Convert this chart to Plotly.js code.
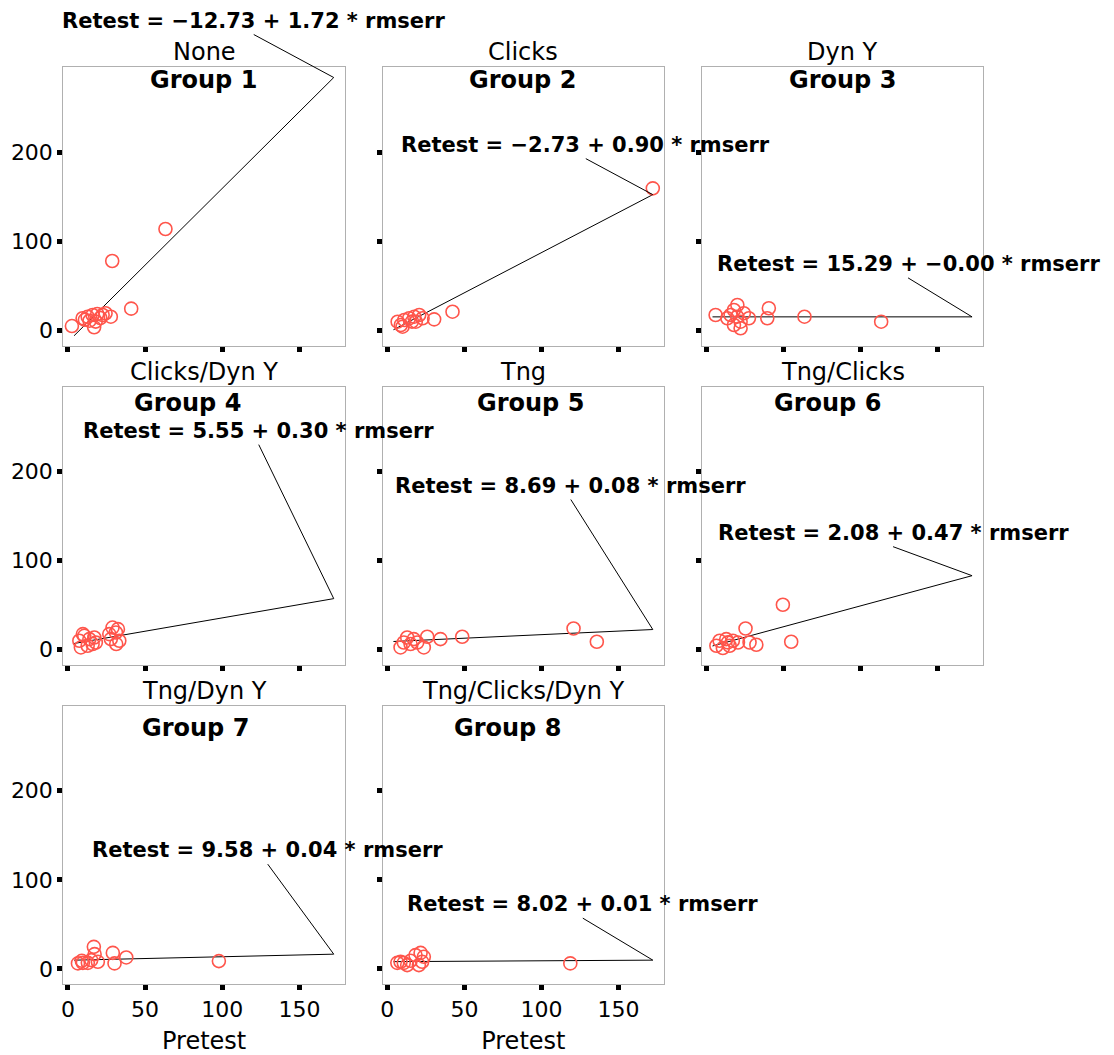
<!DOCTYPE html>
<html><head><meta charset="utf-8">
<script src="https://cdn.plot.ly/plotly-3.0.1.min.js"></script>
<style>html,body{margin:0;padding:0;background:#fff}</style>
</head><body><div id="chart" style="width:1114px;height:1055px"></div>
<script>
// ---- data ----
const groupNames = ['Group 1','Group 2','Group 3','Group 4','Group 5','Group 6','Group 7','Group 8'];
const conditions = ['None','Clicks','Dyn Y','Clicks/Dyn Y','Tng','Tng/Clicks','Tng/Dyn Y','Tng/Clicks/Dyn Y'];
const intercepts = [-12.73, -2.73, 15.29, 5.55, 8.69, 2.08, 9.58, 8.02];
const slopes = [1.72, 0.90, -0.00, 0.30, 0.08, 0.47, 0.04, 0.01];
const equationLabels = [
  'Retest = \u221212.73 + 1.72 * rmserr',
  'Retest = \u22122.73 + 0.90 * rmserr',
  'Retest = 15.29 + \u22120.00 * rmserr',
  'Retest = 5.55 + 0.30 * rmserr',
  'Retest = 8.69 + 0.08 * rmserr',
  'Retest = 2.08 + 0.47 * rmserr',
  'Retest = 9.58 + 0.04 * rmserr',
  'Retest = 8.02 + 0.01 * rmserr'
];
const fitRange = [4, 172.2];

const pre1 = [2.6, 9.5, 11, 12.8, 14, 16, 17, 18, 19, 21, 22.5, 24.4, 27.8, 28.7, 41, 63.2];
const ret1 = [5, 13.7, 12, 15.5, 11, 17.4, 3.6, 10, 18.5, 14, 17.4, 19.3, 15.5, 77.9, 24.5, 113.7];
const pre2 = [6.7, 8.8, 9.9, 11, 14.2, 16, 17.5, 18.5, 20.7, 22.9, 30.4, 42.3, 172.2];
const ret2 = [9.9, 6.2, 4.3, 11.8, 13.7, 10, 15.5, 9.9, 17.4, 13.7, 12.5, 21.1, 159.3];
const pre3 = [6.0, 13.6, 15.7, 17.9, 17.9, 20, 20.1, 22.2, 22.2, 24.3, 27.6, 39.5, 40.5, 63.6, 113.3];
const ret3 = [17.4, 13.7, 17.4, 23, 6.2, 15.5, 28.6, 9.9, 2.5, 19.3, 13.7, 13.7, 24.9, 15.5, 9.9];
const pre4 = [7.4, 8.4, 9.7, 10.6, 12.8, 13.9, 16, 17.1, 18.1, 26.8, 27.8, 28.9, 31.1, 31.3, 32.4, 33.3];
const ret4 = [9.8, 2.3, 17.3, 15.4, 4.2, 11.7, 6.1, 13.5, 7.9, 17.3, 11.7, 24.7, 19.1, 6.1, 22.9, 9.8];
const pre5 = [8.6, 10.7, 12.9, 15.1, 17.2, 19.4, 23.7, 25.9, 34.5, 48.6, 120.8, 135.9];
const ret5 = [2.3, 7.9, 13.5, 6.1, 11.7, 7.9, 2.3, 14.3, 11.7, 14.3, 23.6, 8.7];
const pre6 = [6.5, 8.6, 10.7, 12.9, 14, 15.1, 17.2, 20.5, 25.4, 28, 32.4, 49.6, 55];
const ret6 = [4.2, 9.8, 1.6, 11.7, 8, 4.2, 9.8, 7.9, 23.6, 7.9, 5.3, 50.3, 8.7];
const pre7 = [6.5, 9, 9.7, 12.9, 15.1, 16.8, 17.3, 19.4, 29.1, 30.2, 37.8, 97.8];
const ret7 = [6.1, 9, 6.7, 6.7, 9.8, 24.7, 16.5, 7.9, 17.9, 6.1, 12.8, 8.7];
const pre8 = [6.5, 8.6, 10.7, 12.9, 15.1, 18.3, 20.5, 21.6, 22.6, 23.7, 118.7];
const ret8 = [6.7, 7.9, 6.7, 4.2, 9, 15.4, 4.2, 17.9, 7.9, 13.5, 6.1];

const xTicks = [0, 50, 100, 150];
const yTicks = [0, 100, 200];

// ---- layout config ----
const pretest = [pre1, pre2, pre3, pre4, pre5, pre6, pre7, pre8];
const retest = [ret1, ret2, ret3, ret4, ret5, ret6, ret7, ret8];
const colDomains = [[0.0568, 0.3097], [0.3435, 0.5961], [0.6299, 0.8827]];
const rowDomains = [[0.6720, 0.9368], [0.3697, 0.6335], [0.0670, 0.3311]];
const arrowOffsets = [[-80,-43],[-67,-36],[-64,-39],[-75,-154],[-82,-130],[-79,-29],[-66,-90],[-70,-42]];
const groupXShift = [-1, -1, 0, -17, 7, -15.5, -9, -16.3];
const groupYShift = [-13, -16, -22];
const FONT = 'DejaVu Sans';

const traces = [];
const layout = {
  width: 1114, height: 1055,
  margin: {l: 0, r: 0, t: 0, b: 0},
  paper_bgcolor: '#fff', plot_bgcolor: '#fff',
  showlegend: false,
  font: {family: FONT, color: '#000', size: 22},
  annotations: []
};

for (let i = 0; i < 8; i++) {
  const row = Math.floor(i / 3), col = i % 3;
  const sfx = i === 0 ? '' : String(i + 1);
  const xa = 'x' + sfx, ya = 'y' + sfx;
  const fitX = fitRange.slice();
  const fitY = fitX.map(v => intercepts[i] + slopes[i] * v);
  traces.push({
    type: 'scatter', mode: 'lines', x: fitX, y: fitY, xaxis: xa, yaxis: ya,
    line: {color: '#000', width: 1}, hoverinfo: 'skip'
  });
  traces.push({
    type: 'scatter', mode: 'markers', x: pretest[i], y: retest[i], xaxis: xa, yaxis: ya,
    marker: {symbol: 'circle-open', size: 13, color: 'rgb(255,85,75)', line: {width: 1.6}},
    cliponaxis: false
  });
  const bottomRow = (i >= 6);
  layout['xaxis' + sfx] = {
    domain: colDomains[col], anchor: ya, range: [-3, 179.5],
    tickvals: xTicks, ticks: 'outside', ticklen: 5, tickwidth: 5, tickcolor: '#000',
    showticklabels: bottomRow, tickfont: {size: 22, family: FONT},
    showgrid: false, zeroline: false, showline: true, mirror: true,
    linecolor: '#b0b0b0', linewidth: 1,
    title: bottomRow ? {text: 'Pretest', font: {size: 24, family: FONT}, standoff: 12} : {text: ''}
  };
  layout['yaxis' + sfx] = {
    domain: rowDomains[row], anchor: xa, range: [-17.4, 295.6],
    tickvals: yTicks, ticks: 'outside', ticklen: 5, tickwidth: 5, tickcolor: '#000',
    showticklabels: col === 0, tickfont: {size: 22, family: FONT},
    showgrid: false, zeroline: false, showline: true, mirror: true,
    linecolor: '#b0b0b0', linewidth: 1
  };
  // condition title above the panel
  layout.annotations.push({
    xref: xa + ' domain', yref: ya + ' domain', x: 0.5, y: 1,
    xanchor: 'center', yanchor: 'middle', yshift: 14.5, showarrow: false,
    text: conditions[i], font: {size: 24, family: FONT}
  });
  // group label inside the panel
  layout.annotations.push({
    xref: xa + ' domain', yref: ya + ' domain', x: 0.5, y: 1,
    xanchor: 'center', yanchor: 'middle', yshift: groupYShift[row], xshift: groupXShift[i],
    showarrow: false, text: '<b>' + groupNames[i] + '</b>', font: {size: 24, family: FONT}
  });
  // regression equation with leader line to the fit end
  layout.annotations.push({
    xref: xa, yref: ya, x: fitX[1], y: fitY[1],
    ax: arrowOffsets[i][0], ay: arrowOffsets[i][1],
    xanchor: 'center', yanchor: 'bottom',
    showarrow: true, arrowhead: 0, arrowwidth: 1, arrowcolor: '#000', standoff: 0,
    text: '<b>' + equationLabels[i] + '</b>', font: {size: 21, family: FONT}
  });
}

Plotly.newPlot('chart', traces, layout, {staticPlot: true, displayModeBar: false});
</script>
</body></html>
